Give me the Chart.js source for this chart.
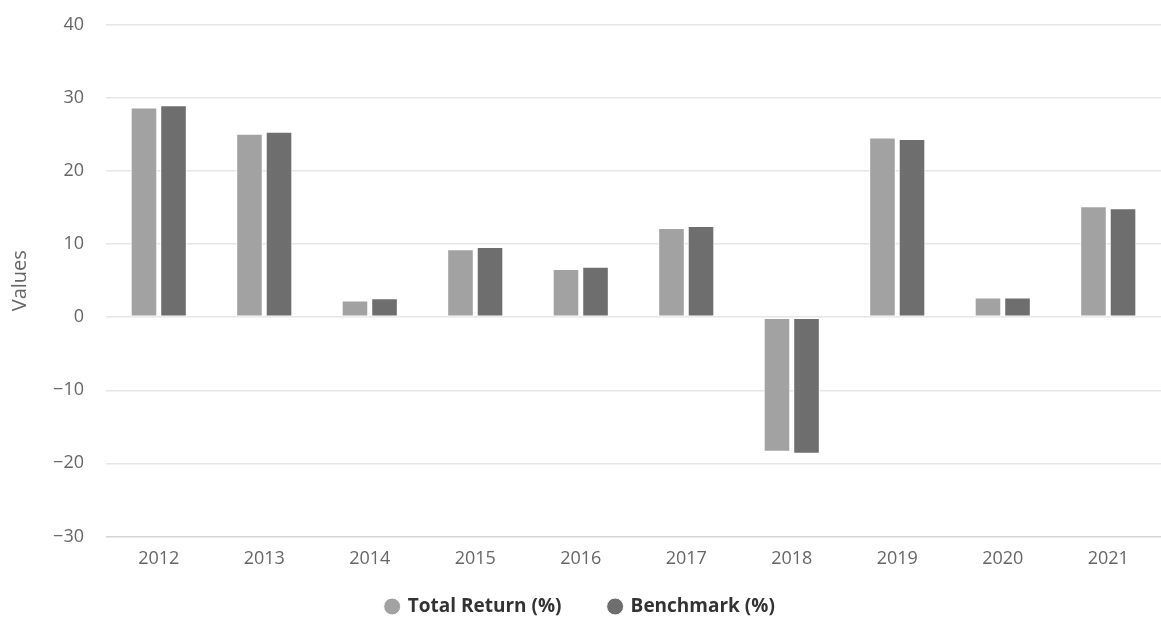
<!DOCTYPE html>
<html>
<head>
<meta charset="utf-8">
<script src="https://cdn.jsdelivr.net/npm/chart.js@4"></script>
<style>
  html, body { margin: 0; padding: 0; background: #fff; }
  #wrap { width: 1161px; height: 628px; position: relative; }
</style>
</head>
<body>
<div id="wrap"><canvas id="returnsChart"></canvas></div>
<script>
const years = ['2012', '2013', '2014', '2015', '2016', '2017', '2018', '2019', '2020', '2021'];
const totalReturn = [28.7, 25.1, 2.3, 9.3, 6.6, 12.2, -18.4, 24.6, 2.7, 15.2];
const benchmark = [29.0, 25.4, 2.6, 9.6, 6.9, 12.5, -18.7, 24.4, 2.7, 14.9];
const yTicks = [-30, -20, -10, 0, 10, 20, 30, 40];

const textColor = '#666666';
const gridColor = '#e6e6e6';
const fontFamily = '"Open Sans", "DejaVu Sans", sans-serif';

// default legend items, with a little trailing room so the two entries sit further apart
function spacedLabels(chart) {
  const items = Chart.defaults.plugins.legend.labels.generateLabels(chart);
  return items.map((item, i) => (i < items.length - 1 ? { ...item, text: item.text + '     ' } : item));
}

function createChart(canvasId) {
  const ctx = document.getElementById(canvasId).getContext('2d');
  return new Chart(ctx, {
    type: 'bar',
    data: {
      labels: years,
      datasets: [{
        label: 'Total Return (%)',
        data: totalReturn,
        backgroundColor: '#a2a2a2',
        borderColor: '#ffffff',
        borderWidth: 1,
        borderSkipped: false,
        categoryPercentage: 0.56,
        barPercentage: 0.9
      }, {
        label: 'Benchmark (%)',
        data: benchmark,
        backgroundColor: '#6e6e6e',
        borderColor: '#ffffff',
        borderWidth: 1,
        borderSkipped: false,
        categoryPercentage: 0.56,
        barPercentage: 0.9
      }]
    },
    options: {
      responsive: true,
      maintainAspectRatio: false,
      animation: false,
      layout: { padding: { top: 25, right: 0, bottom: 2, left: 0 } },
      plugins: {
        tooltip: { enabled: false },
        legend: {
          position: 'bottom',
          labels: {
            color: '#333333',
            font: { family: fontFamily, size: 19, weight: 'bold' },
            usePointStyle: true,
            pointStyle: 'circle',
            boxWidth: 12,
            boxHeight: 12,
            padding: 23,
            generateLabels: spacedLabels
          }
        }
      },
      scales: {
        x: {
          grid: { display: false },
          border: { display: false },
          ticks: {
            color: textColor,
            font: { family: fontFamily, size: 18 },
            padding: 4
          }
        },
        y: {
          min: -30,
          max: 40,
          afterBuildTicks: axis => { axis.ticks = yTicks.map(v => ({ value: v })); },
          afterFit: axis => {
            axis.width = 106;
            axis.paddingTop = 0;
            axis.paddingBottom = 0;
          },
          grid: {
            color: c => (c.tick && c.tick.value === -30 ? '#d4d4d4' : gridColor),
            lineWidth: 1.5,
            drawTicks: false
          },
          border: { display: false },
          ticks: {
            color: textColor,
            font: { family: fontFamily, size: 18 },
            padding: 22,
            callback: v => String(v).replace('-', '\u2212')
          },
          title: {
            display: true,
            text: 'Values',
            color: textColor,
            font: { family: fontFamily, size: 20 },
            padding: { top: 8, bottom: 0 }
          }
        }
      }
    }
  });
}

const returnsChart = createChart('returnsChart');
</script>
</body>
</html>
